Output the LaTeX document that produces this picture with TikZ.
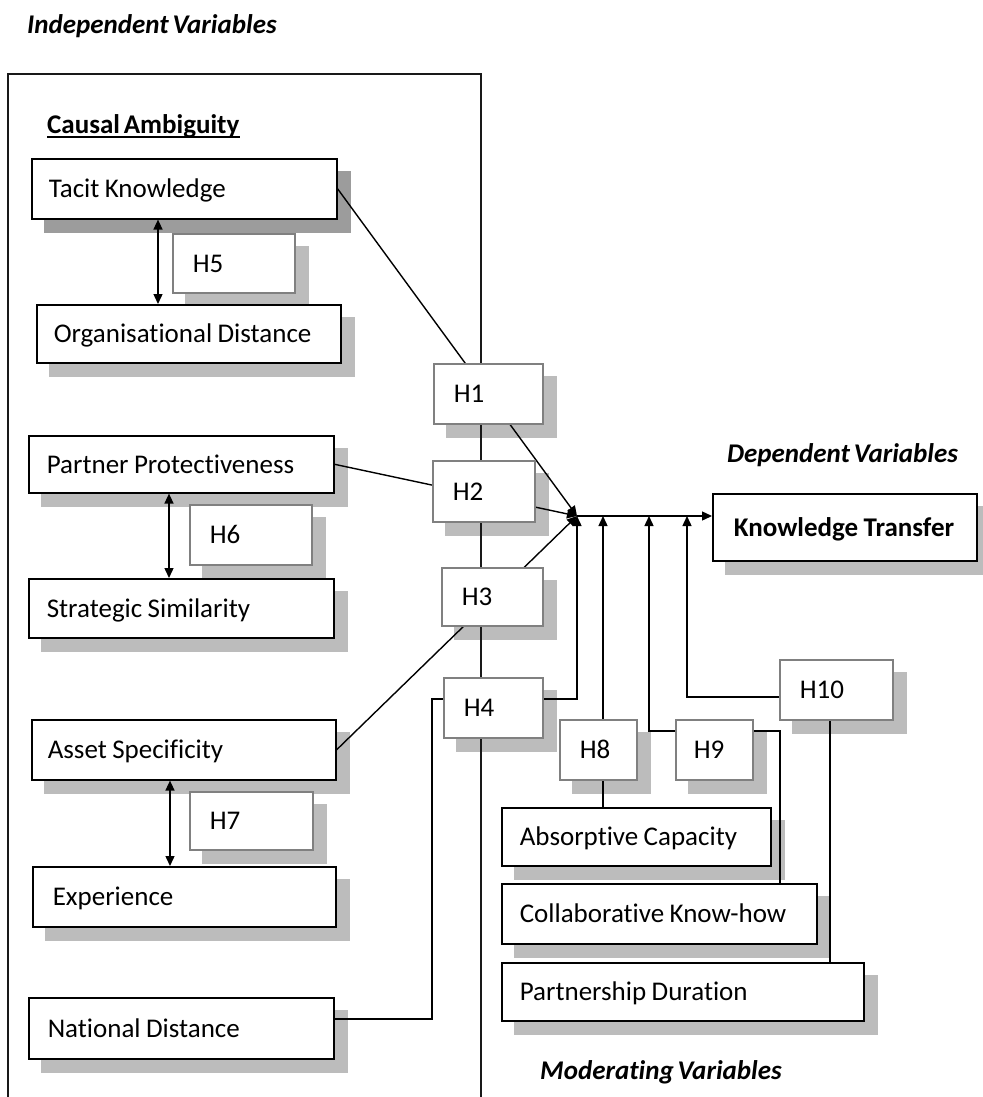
\documentclass[tikz,border=0pt]{standalone}
\usepackage{fontspec}
\setmainfont{Carlito}[Ligatures=NoCommon]
\usetikzlibrary{arrows.meta,calc}
\pgfdeclarelayer{shadow}
\pgfdeclarelayer{lines}
\pgfsetlayers{shadow,lines,main}
\definecolor{shadowc}{HTML}{BCBCBC}
\definecolor{shadowd}{HTML}{9C9C9C}
\definecolor{hborder}{HTML}{808080}
\newcommand\labelfont{\fontsize{27}{30}\selectfont\spaceskip=0.14em\relax}
\tikzset{
  boxbase/.style={rectangle, fill=white, anchor=north west, align=left, inner ysep=0pt,
    text height=17.4pt, text depth=0pt, font=\labelfont},
  varbox/.style={boxbase, draw=black, line width=1.6pt},
  hypbox/.style={boxbase, draw=hborder, line width=1.6pt},
  conn/.style={draw=black, line width=1.4pt},
  arr/.style={conn, -{Triangle[length=10pt,width=9pt]}},
  dbl/.style={conn, {Triangle[length=10pt,width=9pt]}-{Triangle[length=10pt,width=9pt]}},
  heading/.style={font=\labelfont\bfseries\itshape, inner sep=0pt, anchor=base west},
  frame/.style={draw=black!90, line width=1.6pt},
}
% name, style, pad, x1, y1, x2, y2, text
\newcommand\bx[8]{%
  \pgfmathsetmacro\bxh{#7-#5}\pgfmathsetmacro\bxt{#6-#4-2*#3}%
  \node[#2, inner xsep=#3pt, text width=\bxt pt, minimum height=\bxh pt] (#1) at (#4,#5) {\spaceskip=0.2em\relax\mbox{#8}};}
\newcommand\shd[2][shadowc]{\fill[#1] ($(#2.south west)+(13,13)$) rectangle ($(#2.north east)+(13,13)$);}
\begin{document}
\begin{tikzpicture}[x=1pt,y=-1pt]
\useasboundingbox (0,0) rectangle (982,1097);
% nodes
\bx{tacit}{varbox}{17}{31}{158}{336}{218}{Tacit Knowledge}
\bx{h5}{hypbox}{20}{172}{233}{294}{292}{H5}
\bx{org}{varbox}{17}{36}{304}{340}{362}{Organisational Distance}
\bx{partner}{varbox}{18}{28}{435}{333}{492}{Partner Protectiveness}
\bx{h6}{hypbox}{20}{189}{504}{311}{564}{H6}
\bx{strat}{varbox}{18}{28}{578}{333}{637}{Strategic Similarity}
\bx{asset}{varbox}{16}{31}{719}{335}{779}{Asset Specificity}
\bx{h7}{hypbox}{20}{189}{791}{312}{849}{H7}
\bx{exper}{varbox}{20}{32}{866}{335}{926}{Experience}
\bx{nation}{varbox}{19}{28}{997}{333}{1058}{National Distance}
\bx{h1}{hypbox}{20}{433}{363}{542}{423}{H1}
\bx{h2}{hypbox}{20}{432}{460}{534}{521}{H2}
\bx{h3}{hypbox}{20}{441}{567}{542}{625}{H3}
\bx{h4}{hypbox}{20}{443}{677}{542}{737}{H4}
\bx{h8}{hypbox}{20}{559}{719}{636}{779}{H8}
\bx{h9}{hypbox}{18}{675}{719}{752}{779}{H9}
\bx{h10}{hypbox}{20}{779}{659}{892}{719}{H10}
\bx{absorb}{varbox}{18}{501}{807}{770}{865}{Absorptive Capacity}
\bx{collab}{varbox}{18}{501}{883}{816}{943}{Collaborative Know-how}
\bx{partdur}{varbox}{18}{501}{962}{863}{1020}{Partnership Duration}
\bx{kt}{varbox, font=\labelfont\bfseries}{21}{712}{493}{976}{560}{Knowledge Transfer}
% headings
\node[heading] (indep) at (27,34) {Independent Variables};
\node[heading, font=\labelfont\bfseries] (causal) at (47,133) {Causal Ambiguity};
\node[heading] (dep) at (727,462) {Dependent Variables};
\node[heading] (mod) at (540,1079) {Moderating Variables};
% shadows
\begin{pgfonlayer}{shadow}
  \fill[white] (0,0) rectangle (982,1097);
  \shd[shadowd]{tacit}
  \foreach \n in {h5,org,partner,h6,strat,asset,h7,exper,nation,h1,h2,h3,h4,h8,h9,h10,absorb,collab,partdur,kt}{\shd{\n}}
\end{pgfonlayer}
% lines
\begin{pgfonlayer}{lines}
  \draw[frame] (8,1105) -- (8,74) -- (481,74) -- (481,1105);
  \draw[line width=1.4pt] ($(causal.base west)+(0,4)$) -- ($(causal.base east)+(0,4)$);
  \coordinate (J) at (577,516);
  \draw[arr] (tacit.east) -- (J);
  \draw[arr] (partner.east) -- (J);
  \draw[arr] (asset.east) -- (J);
  \coordinate (n1) at (432,1019);
  \coordinate (n2) at (432,699);
  \coordinate (n3) at (577,699);
  \draw[arr] (nation.east |- n1) -- (n1) -- (n2) -- (n3) -- (J);
  \draw[arr] (J) -- (J -| kt.west);
  \coordinate (m8) at (603,516);
  \draw[arr] (absorb.north -| m8) -- (m8);
  \coordinate (m9a) at (780,731);
  \coordinate (m9b) at (649,731);
  \coordinate (m9) at (649,516);
  \draw[arr] (collab.north -| m9a) -- (m9a) -- (m9b) -- (m9);
  \coordinate (m10a) at (830,697);
  \coordinate (m10b) at (687,697);
  \coordinate (m10) at (687,516);
  \draw[arr] (partdur.north -| m10a) -- (m10a) -- (m10b) -- (m10);
  \coordinate (a5) at (158,0);
  \coordinate (a6) at (169,0);
  \coordinate (a7) at (170,0);
  \draw[dbl] (tacit.south -| a5) -- (org.north -| a5);
  \draw[dbl] (partner.south -| a6) -- (strat.north -| a6);
  \draw[dbl] (asset.south -| a7) -- (exper.north -| a7);
\end{pgfonlayer}
\end{tikzpicture}
\end{document}
